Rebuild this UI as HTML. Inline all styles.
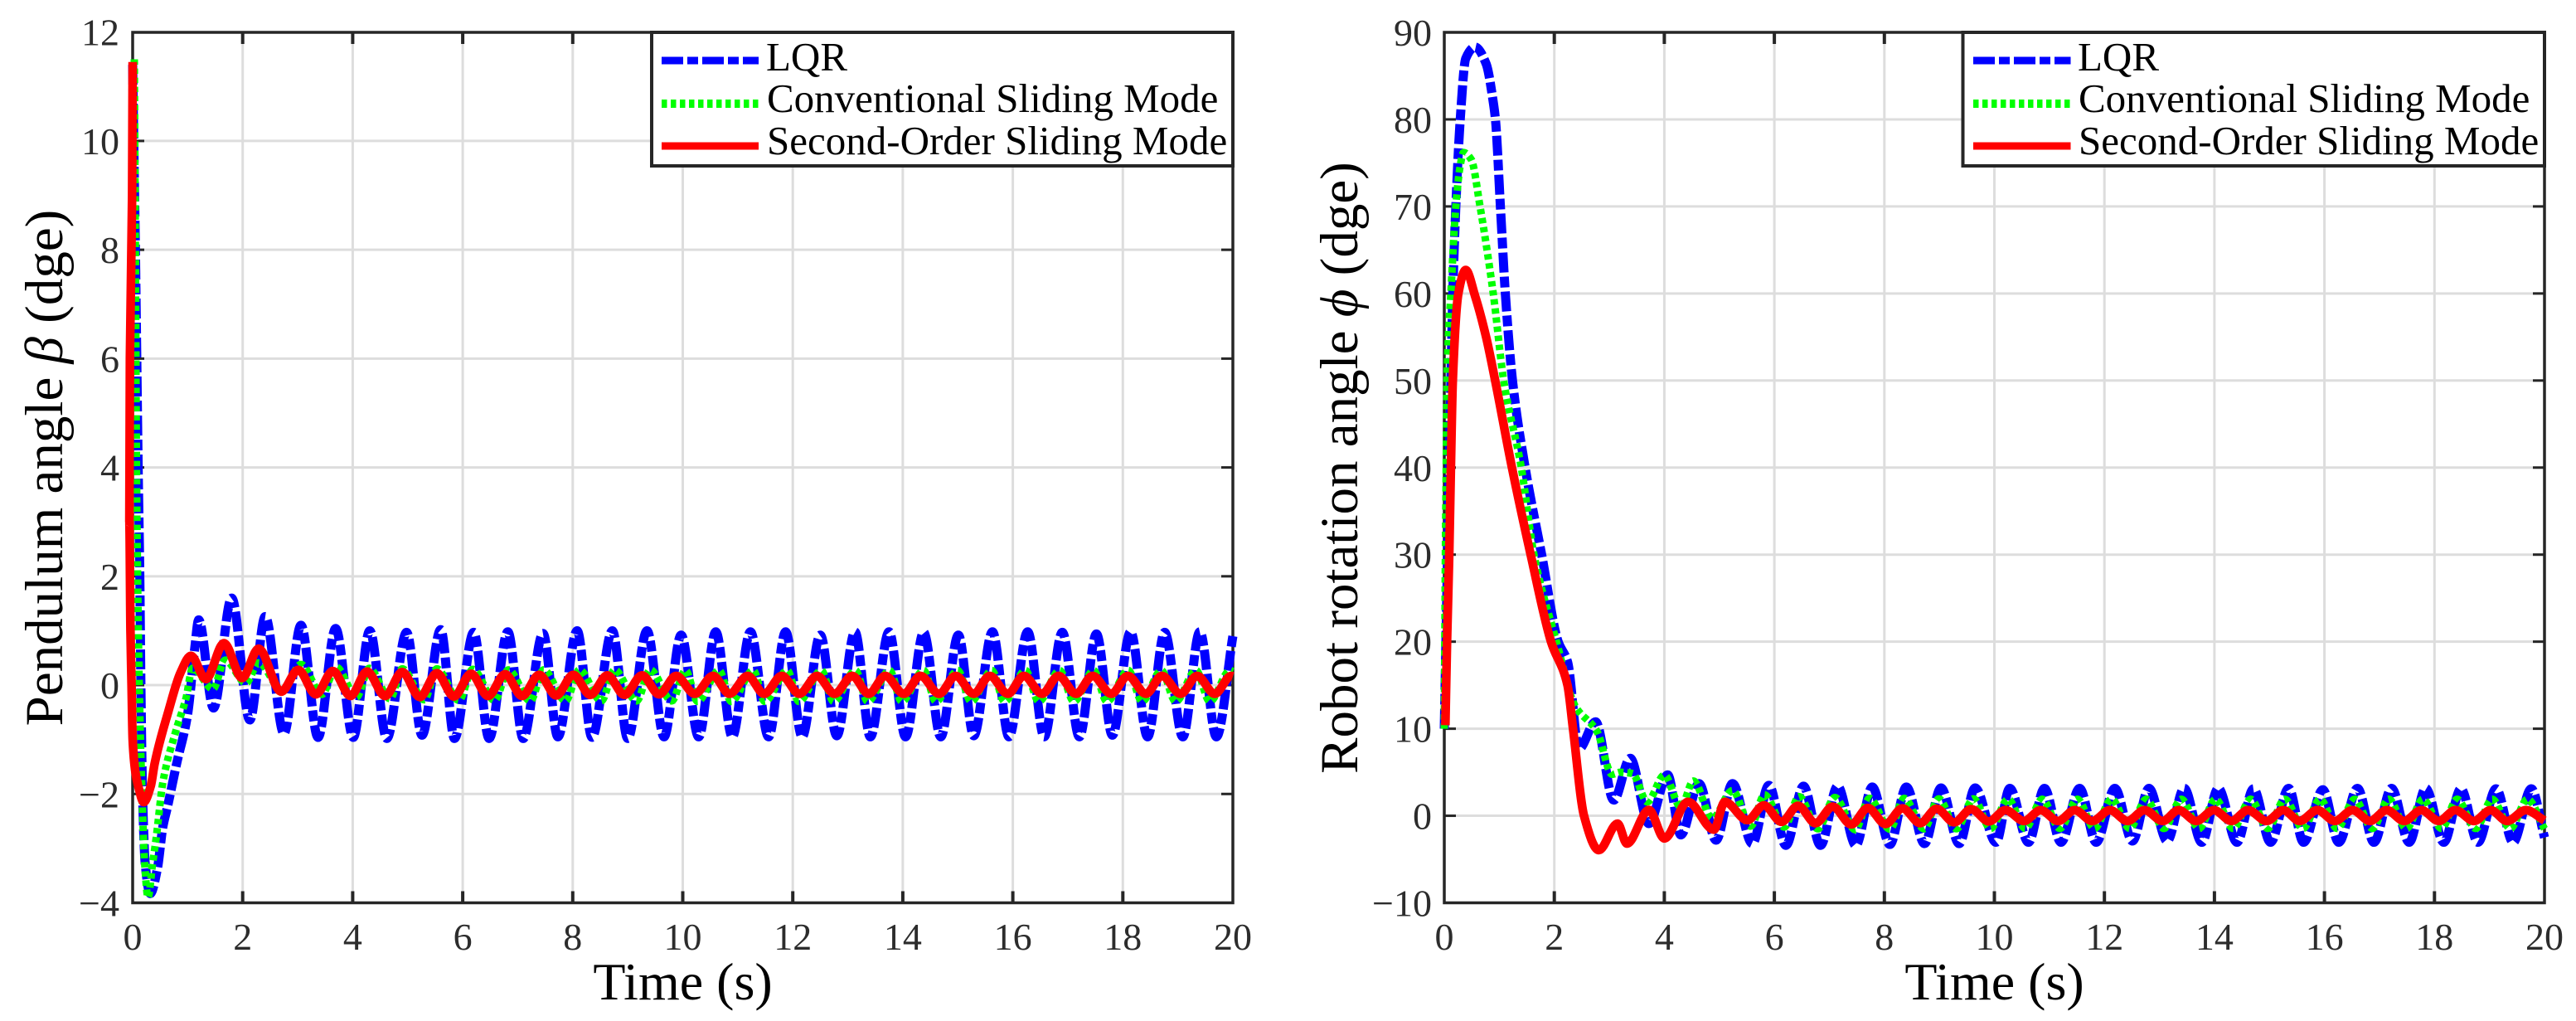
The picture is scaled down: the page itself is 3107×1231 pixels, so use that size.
<!DOCTYPE html>
<html lang="en">
<head>
<meta charset="utf-8">
<title>Pendulum and robot rotation angle responses</title>
<style>
html,body{margin:0;padding:0;background:#fff;}
svg{display:block;}
text{font-family:"Liberation Serif","Noto Serif CJK SC",serif;}
.tick-label{font-size:46px;fill:#2c2c2c;}
.axis-title{font-size:64px;fill:#000;}
.legend-label{font-size:49px;fill:#000;}
.lqr{fill:none;stroke:#0000ff;stroke-width:11;stroke-dasharray:24 5 13 5;stroke-linejoin:round;}
.csm{fill:none;stroke:#00ff00;stroke-width:9;stroke-dasharray:6.5 4.5;stroke-linejoin:round;}
.somc{fill:none;stroke:#ff0000;stroke-width:10.5;stroke-linejoin:round;}
.swatch{stroke-width:9;stroke-dasharray:26 5 13 5;}
</style>
</head>
<body>
<svg xmlns="http://www.w3.org/2000/svg" width="3107" height="1231" viewBox="0 0 3107 1231">
<rect x="0" y="0" width="3107" height="1231" fill="#fff"/>

<g id="left-chart">
  <g id="left-grid"></g>
  <rect x="160" y="39" width="1327" height="1049.5" fill="none" stroke="#262626" stroke-width="3.5"/>
  <g id="left-ticks"></g>
  <path id="beta-lqr" class="lqr"/>
  <path id="beta-csm" class="csm"/>
  <path id="beta-somc" class="somc"/>
  <text class="axis-title" x="823.5" y="1205" text-anchor="middle">Time (s)</text>
  <text class="axis-title" transform="translate(75 564) rotate(-90)" text-anchor="middle" style="font-size:65px">Pendulum angle <tspan font-style="italic">β</tspan> (dge)</text>
  <g>
    <rect x="786" y="39" width="701" height="161" fill="#fff" stroke="#262626" stroke-width="4"/>
    <line class="lqr swatch" x1="798" y1="73" x2="915" y2="73"/>
    <text class="legend-label" x="924" y="85">LQR</text>
    <line class="csm" style="stroke-width:10" x1="798" y1="125" x2="915" y2="125"/>
    <text class="legend-label" x="925" y="135">Conventional Sliding Mode</text>
    <line class="somc" style="stroke-width:9" x1="798" y1="176" x2="915" y2="176"/>
    <text class="legend-label" x="925" y="186">Second-Order Sliding Mode</text>
  </g>
</g>

<g id="right-chart">
  <g id="right-grid"></g>
  <rect x="1742" y="39" width="1327" height="1049.5" fill="none" stroke="#262626" stroke-width="3.5"/>
  <g id="right-ticks"></g>
  <path id="phi-lqr" class="lqr"/>
  <path id="phi-csm" class="csm"/>
  <path id="phi-somc" class="somc"/>
  <text class="axis-title" x="2405.5" y="1205" text-anchor="middle">Time (s)</text>
  <text class="axis-title" transform="translate(1637 564) rotate(-90)" text-anchor="middle" style="font-size:65px">Robot rotation angle <tspan font-style="italic">ϕ</tspan> (dge)</text>
  <g>
    <rect x="2367.5" y="39" width="701.5" height="161" fill="#fff" stroke="#262626" stroke-width="4"/>
    <line class="lqr swatch" x1="2380" y1="73" x2="2497.5" y2="73"/>
    <text class="legend-label" x="2506" y="85">LQR</text>
    <line class="csm" style="stroke-width:10" x1="2380" y1="125" x2="2497.5" y2="125"/>
    <text class="legend-label" x="2507" y="135">Conventional Sliding Mode</text>
    <line class="somc" style="stroke-width:9" x1="2380" y1="176" x2="2497.5" y2="176"/>
    <text class="legend-label" x="2507" y="186">Second-Order Sliding Mode</text>
  </g>
</g>
</svg>

<script>
const xTickValues = [0,2,4,6,8,10,12,14,16,18,20];
const betaTickValues = [-4,-2,0,2,4,6,8,10,12];
const phiTickValues = [-10,0,10,20,30,40,50,60,70,80,90];

// [time s, angle deg]
const betaLqr = [[0,11.4],[.02,10],[.05,8],[.075,6],[.1,4],[.13,2],[.15,0],[.18,-2],[.23,-3.3],[.32,-3.83],[.45,-3.37],[.55,-2.6],[.63,-2.25],[.8,-1.44],[1,-.53],[1.13,.69],[1.2,1.2],[1.47,-.42],[1.8,1.6],[2.13,-.64],[2.41,1.26],[2.75,-.89],[3.06,1.1],[3.37,-.96],[3.69,1.04],[4.01,-.96],[4.31,1],[4.62,-.98],[4.98,.97],[5.26,-.92],[5.6,1.02],[5.85,-.98],[6.2,.97],[6.48,-.98],[6.82,.98],[7.1,-.98],[7.46,.95],[7.73,-.95],[8.08,1],[8.35,-.96],[8.72,1],[9,-.98],[9.35,1],[9.66,-.95],[9.97,.92],[10.29,-.95],[10.6,.98],[10.9,-.95],[11.23,.98],[11.56,-.95],[11.87,.98],[12.17,-.95],[12.5,.92],[12.8,-.93],[13.13,.98],[13.41,-.95],[13.75,.98],[14.05,-.95],[14.38,.97],[14.69,-.95],[15.01,.92],[15.29,-.93],[15.63,.98],[15.93,-.95],[16.27,.98],[16.57,-.95],[16.9,.97],[17.21,-.95],[17.52,.94],[17.81,-.92],[18.14,.98],[18.45,-.95],[18.76,.97],[19.09,-.95],[19.4,.98],[19.7,-.95],[20,.9]];
const betaCsm = [[.03,11.5],[.05,8],[.07,4],[.09,2],[.12,0],[.17,-2],[.22,-3.3],[.28,-3.9],[.36,-3.3],[.43,-2.79],[.55,-1.78],[.78,-.86],[.97,-.24],[1.09,.31],[1.46,-.07],[1.68,.46],[2.06,.04],[2.29,.41],[2.72,-.1],[3.06,.38],[3.44,-.17],[3.7,.33],[4.07,-.22],[4.3,.31],[4.68,-.25],[4.9,.3],[5.3,-.27],[5.53,.3],[5.93,-.28],[6.18,.29],[6.58,-.28],[6.83,.28],[7.23,-.29],[7.47,.28],[7.87,-.29],[8.12,.28],[8.52,-.29],[8.76,.28],[9.16,-.29],[9.41,.28],[9.8,-.29],[10.05,.27],[10.27,-.3],[10.66,.27],[10.88,-.3],[11.28,.27],[11.49,-.3],[11.9,.27],[12.11,-.3],[12.52,.27],[12.74,-.3],[13.14,.27],[13.36,-.3],[13.76,.27],[13.98,-.3],[14.38,.27],[14.6,-.3],[15,.27],[15.24,-.3],[15.62,.27],[15.85,-.3],[16.23,.27],[16.47,-.3],[16.85,.27],[17.11,-.3],[17.47,.27],[17.71,-.3],[18.1,.27],[18.35,-.3],[18.7,.27],[18.96,-.3],[19.33,.27],[19.58,-.3],[19.95,.27],[20,.25]];
const betaSomc = [[0,11.45],[-.01,9],[-.05,6],[-.06,3],[-.04,1],[-.02,0],[0,-1],[.05,-1.6],[.1,-1.85],[.2,-2.15],[.33,-1.85],[.4,-1.44],[.65,-.48],[.87,.23],[1.06,.54],[1.33,.11],[1.66,.77],[1.99,.13],[2.29,.67],[2.7,-.12],[3.01,.28],[3.33,-.17],[3.64,.26],[3.96,-.2],[4.26,.25],[4.59,-.2],[4.9,.24],[5.22,-.22],[5.53,.22],[5.84,-.21],[6.15,.21],[6.46,-.2],[6.77,.2],[7.08,-.2],[7.39,.19],[7.7,-.19],[8.01,.19],[8.32,-.18],[8.63,.18],[8.94,-.18],[9.26,.18],[9.57,-.17],[9.88,.17],[10.22,-.16],[10.55,.17],[10.85,-.16],[11.18,.17],[11.48,-.16],[11.8,.17],[12.12,-.16],[12.44,.17],[12.76,-.16],[13.08,.17],[13.38,-.16],[13.68,.17],[14.02,-.16],[14.32,.17],[14.66,-.16],[14.96,.17],[15.29,-.16],[15.58,.17],[15.91,-.16],[16.2,.17],[16.53,-.16],[16.83,.17],[17.15,-.16],[17.45,.17],[17.79,-.16],[18.09,.17],[18.42,-.16],[18.71,.17],[19.05,-.16],[19.35,.17],[19.67,-.16],[19.97,.17],[20,.16]];

const phiLqr = [[0,10],[.03,20],[.06,30],[.09,40],[.12,50],[.155,60],[.21,70],[.29,80],[.39,87],[.56,88.3],[.76,86.4],[.89,82],[.93,80],[1.02,70],[1.11,60],[1.24,50],[1.47,40],[1.77,30],[2.07,20],[2.24,17.7],[2.45,7.7],[2.75,10.8],[3.08,1.8],[3.38,6.6],[3.72,-.9],[4.06,4.7],[4.3,-2.2],[4.63,3.7],[4.94,-2.8],[5.24,3.7],[5.6,-3.2],[5.9,3.5],[6.21,-3.4],[6.53,3.4],[6.84,-3.4],[7.15,3.4],[7.48,-3.4],[7.78,3.3],[8.1,-3.3],[8.4,3.3],[8.73,-3.2],[9.03,3.2],[9.36,-3.2],[9.65,3.2],[10.03,-3.05],[10.28,3.15],[10.62,-3.05],[10.91,3.15],[11.21,-3.05],[11.55,3.15],[11.85,-3.05],[12.19,3.15],[12.51,-2.9],[12.81,3.15],[13.14,-2.9],[13.45,3.15],[13.77,-3.05],[14.07,3.15],[14.41,-3.05],[14.71,3.1],[15.02,-3.05],[15.35,3.15],[15.62,-3.05],[15.97,3],[16.26,-3.05],[16.6,3.15],[16.9,-3.05],[17.22,3.15],[17.54,-3.05],[17.84,3.15],[18.17,-3.05],[18.48,3.1],[18.79,-3.05],[19.12,3.1],[19.43,-3.05],[19.76,3.1],[20,-2.5]];
const phiCsm = [[0,10],[.01,20],[.02,30],[.035,40],[.05,50],[.12,60],[.21,70],[.29,74.7],[.35,76.2],[.49,75.4],[.65,70],[.89,60],[1.08,50],[1.4,40],[1.63,30],[2.04,20],[2.37,12.7],[2.78,9.65],[3.05,4.76],[3.2,5],[3.42,4.86],[3.69,1.6],[4,4.67],[4.3,1],[4.53,4],[4.87,-.3],[5.24,2.9],[5.57,-1.2],[5.82,2.4],[6.18,-1.3],[6.45,2.2],[6.79,-1.5],[7.1,2.1],[7.47,-1.6],[7.73,2],[8.1,-1.55],[8.36,2],[8.72,-1.5],[8.99,1.95],[9.31,-1.5],[9.62,1.95],[9.93,-1.46],[10.25,1.9],[10.56,-1.46],[10.87,1.9],[11.19,-1.46],[11.51,1.9],[11.82,-1.46],[12.13,1.9],[12.46,-1.46],[12.76,1.9],[13.08,-1.46],[13.4,1.9],[13.72,-1.46],[14.02,1.9],[14.34,-1.46],[14.66,1.9],[14.97,-1.46],[15.28,1.9],[15.61,-1.46],[15.92,1.9],[16.23,-1.46],[16.55,1.9],[16.87,-1.46],[17.17,1.9],[17.49,-1.46],[17.79,1.9],[18.13,-1.46],[18.41,1.9],[18.75,-1.46],[19.05,1.9],[19.38,-1.46],[19.69,1.9],[20,-1.5]];
const phiSomc = [[.02,10.4],[.05,20],[.09,30],[.12,40],[.155,50],[.256,60],[.39,62.7],[.56,59.7],[.76,55],[.925,50],[1.23,40],[1.57,30],[1.94,20],[2.24,15],[2.34,10],[2.54,0],[2.81,-3.95],[3.15,-.9],[3.32,-3.2],[3.72,.67],[4,-2.6],[4.43,1.6],[4.9,-1.6],[5.1,1.6],[5.51,-.5],[5.81,1.2],[6.13,-.7],[6.43,1.15],[6.75,-.85],[7.06,1.05],[7.4,-1],[7.7,.9],[8.02,-.95],[8.33,.85],[8.65,-.85],[8.95,.8],[9.27,-.75],[9.58,.75],[9.9,-.65],[10.2,.65],[10.54,-.6],[10.84,.65],[11.16,-.6],[11.46,.65],[11.78,-.6],[12.1,.65],[12.42,-.6],[12.73,.65],[13.06,-.6],[13.35,.65],[13.67,-.6],[13.99,.65],[14.31,-.6],[14.61,.65],[14.95,-.6],[15.25,.65],[15.55,-.6],[15.87,.65],[16.19,-.6],[16.51,.65],[16.83,-.6],[17.13,.65],[17.45,-.6],[17.76,.65],[18.08,-.6],[18.38,.65],[18.72,-.6],[19.02,.65],[19.32,-.6],[19.66,.65],[20,-.55]];

const SVGNS = 'http://www.w3.org/2000/svg';

function makeScale(d0, d1, r0, r1) {
  return function (v) { return r0 + (v - d0) * (r1 - r0) / (d1 - d0); };
}

function curvePath(points, sx, sy) {
  const n = points.length;
  const d = [];
  const h = [];
  for (let i = 0; i < n - 1; i++) {
    h[i] = points[i + 1][0] - points[i][0];
    d[i] = h[i] > 0 ? (points[i + 1][1] - points[i][1]) / h[i] : 0;
  }
  const m = [];
  m[0] = d[0];
  m[n - 1] = d[n - 2];
  for (let i = 1; i < n - 1; i++) {
    if (d[i - 1] * d[i] <= 0) { m[i] = 0; continue; }
    const w1 = 2 * h[i] + h[i - 1];
    const w2 = h[i] + 2 * h[i - 1];
    m[i] = (w1 + w2) / (w1 / d[i - 1] + w2 / d[i]);
  }
  let path = 'M' + sx(points[0][0]).toFixed(2) + ' ' + sy(points[0][1]).toFixed(2);
  for (let i = 0; i < n - 1; i++) {
    const a = points[i];
    const b = points[i + 1];
    if (h[i] <= 0) {
      path += 'L' + sx(b[0]).toFixed(2) + ' ' + sy(b[1]).toFixed(2);
      continue;
    }
    const x1 = a[0] + h[i] / 3;
    const y1 = a[1] + m[i] * h[i] / 3;
    const x2 = b[0] - h[i] / 3;
    const y2 = b[1] - m[i + 1] * h[i] / 3;
    path += 'C' + sx(x1).toFixed(2) + ' ' + sy(y1).toFixed(2) + ' ' +
      sx(x2).toFixed(2) + ' ' + sy(y2).toFixed(2) + ' ' +
      sx(b[0]).toFixed(2) + ' ' + sy(b[1]).toFixed(2);
  }
  return path;
}

function addLine(parent, x1, y1, x2, y2, color, width) {
  const el = document.createElementNS(SVGNS, 'line');
  el.setAttribute('x1', x1);
  el.setAttribute('y1', y1);
  el.setAttribute('x2', x2);
  el.setAttribute('y2', y2);
  el.setAttribute('stroke', color);
  el.setAttribute('stroke-width', width);
  parent.appendChild(el);
  return el;
}

function addLabel(parent, x, y, anchor, value) {
  const el = document.createElementNS(SVGNS, 'text');
  el.setAttribute('class', 'tick-label');
  el.setAttribute('x', x);
  el.setAttribute('y', y);
  el.setAttribute('text-anchor', anchor);
  el.textContent = String(value).replace('-', '\u2212');
  parent.appendChild(el);
  return el;
}

function drawAxes(gridId, tickId, sx, sy, yTicks, x0, x1, y0, y1, labelX) {
  const grid = document.getElementById(gridId);
  const ticks = document.getElementById(tickId);
  xTickValues.forEach(function (v) {
    const x = sx(v);
    if (v !== xTickValues[0] && v !== xTickValues[xTickValues.length - 1]) {
      const g = addLine(grid, x, y0, x, y1, '#dddddd', 3);
      
      
      const t1 = addLine(ticks, x, y1, x, y1 - 14, '#262626', 4);
      
      
      const t2 = addLine(ticks, x, y0, x, y0 + 14, '#262626', 4);
      
      
    }
    const lab = addLabel(ticks, x, 1145, 'middle', v);
    
    
  });
  yTicks.forEach(function (v) {
    const y = sy(v);
    if (v !== yTicks[0] && v !== yTicks[yTicks.length - 1]) {
      const g = addLine(grid, x0, y, x1, y, '#dddddd', 3);
      
      
      const t1 = addLine(ticks, x0, y, x0 + 14, y, '#262626', 3);
      
      
      const t2 = addLine(ticks, x1, y, x1 - 14, y, '#262626', 3);
      
      
    }
    const lab = addLabel(ticks, labelX, y + 16, 'end', v);
    
    
  });
}

const leftX = makeScale(0, 20, 160, 1487);
const leftY = makeScale(-4, 12, 1088.5, 38.7);
const rightX = makeScale(0, 20, 1742, 3069);
const rightY = makeScale(-10, 90, 1088.5, 39);

drawAxes('left-grid', 'left-ticks', leftX, leftY, betaTickValues, 160, 1487, 39, 1088.5, 144);
drawAxes('right-grid', 'right-ticks', rightX, rightY, phiTickValues, 1742, 3069, 39, 1088.5, 1727);

document.getElementById('beta-lqr').setAttribute('d', curvePath(betaLqr, leftX, leftY));
document.getElementById('beta-csm').setAttribute('d', curvePath(betaCsm, leftX, leftY));
document.getElementById('beta-somc').setAttribute('d', curvePath(betaSomc, leftX, leftY));
document.getElementById('phi-lqr').setAttribute('d', curvePath(phiLqr, rightX, rightY));
document.getElementById('phi-csm').setAttribute('d', curvePath(phiCsm, rightX, rightY));
document.getElementById('phi-somc').setAttribute('d', curvePath(phiSomc, rightX, rightY));
</script>
</body>
</html>
